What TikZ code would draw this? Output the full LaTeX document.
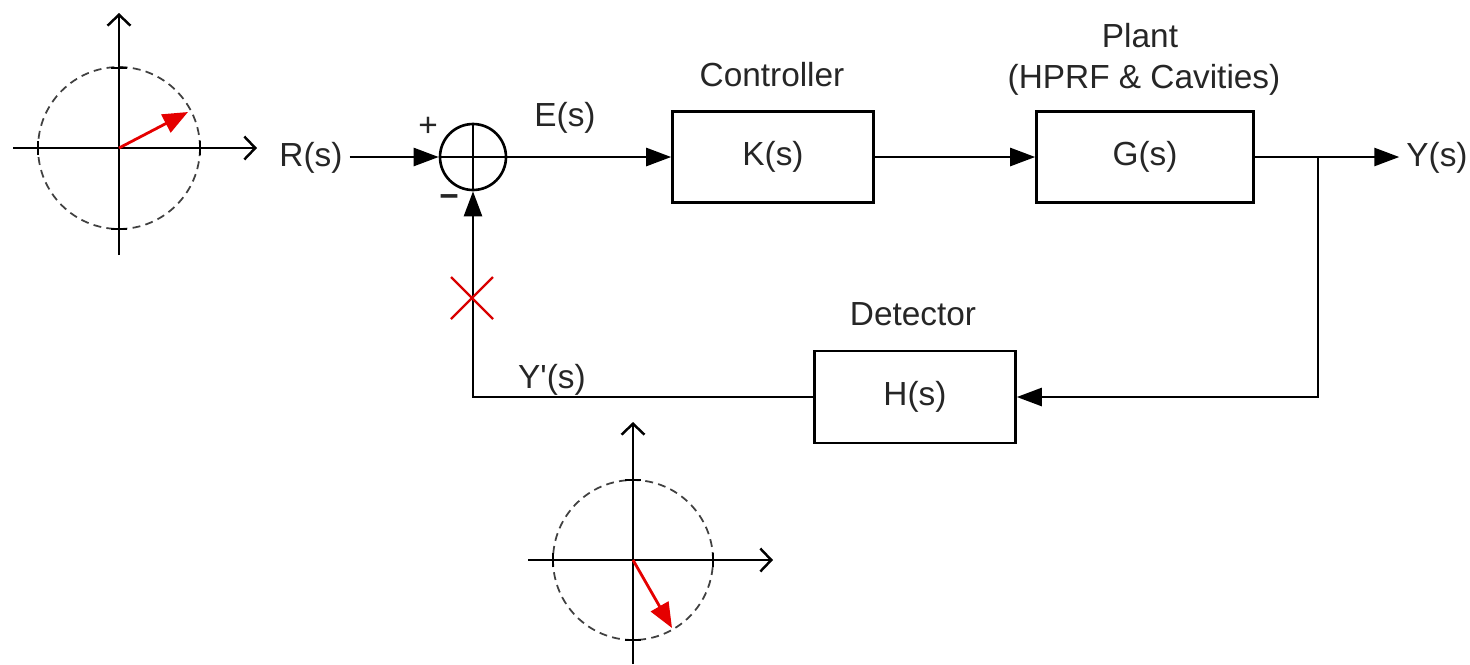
\documentclass[tikz,border=0pt]{standalone}
\usepackage{fontspec}
\setmainfont{Liberation Sans}[Ligatures=TeXOff]
\usetikzlibrary{arrows.meta}
\begin{document}
\begin{tikzpicture}[x=0.02cm,y=-0.02cm,
  font=\fontsize{19}{23}\selectfont,
  text=black!85,
  line width=1.45pt,
  blk/.style={draw, line width=1.5pt, minimum width=4.02cm, minimum height=1.82cm, inner sep=0pt},
  sig/.style={-{Triangle[length=0.5cm,width=0.36cm]}},
  axis/.style={-{Straight Barb[length=0.22cm,width=0.46cm]}, line width=1.4pt},
  unitc/.style={dash pattern=on 4.5pt off 3pt, black!75, line width=1pt},
  phasor/.style={red!90!black, line width=1.6pt, -{Triangle[length=0.5cm,width=0.4cm]}},
  tick/.style={line width=1pt},
  xmark/.style={red!85!black, line width=1.3pt},
  lbl/.style={anchor=base}
]
\useasboundingbox (0,0) rectangle (1470,664);

% ---- top-left phasor ----
\coordinate (pa) at (119,148);
\draw[unitc] (pa) circle[radius=1.62cm];
\draw[axis] (13,148) -- (257,148);
\draw[axis] (119,255) -- (119,13);
\draw[tick] (38,141) -- (38,155);
\draw[tick] (200,141) -- (200,155);
\draw[tick] (111,68) -- (127,68);
\draw[tick] (111,229) -- (127,229);
\draw[phasor] (pa) -- ++(69,-36);

% ---- bottom phasor ----
\coordinate (pb) at (633,560);
\draw[unitc] (pb) circle[radius=1.6cm];
\draw[axis] (528,560) -- (773,560);
\draw[axis] (633,664) -- (633,422);
\draw[tick] (553,553) -- (553,567);
\draw[tick] (713,553) -- (713,567);
\draw[tick] (625,480) -- (641,480);
\draw[tick] (625,640) -- (641,640);
\draw[phasor] (pb) -- ++(39,68);

% ---- blocks ----
\node[draw, circle, minimum size=1.32cm, inner sep=0pt, line width=1.5pt] (sum) at (473,157) {};
\draw (sum.north) -- (sum.south);
\draw (sum.west) -- (sum.east);

\node[blk] (K) at (773,157) {K(s)};
\node[blk, minimum width=4.34cm] (G) at (1145,157) {G(s)};
\node[blk, minimum height=1.84cm] (H) at (915,397) {H(s)};

% ---- labels ----
\node[lbl] (Rl) at (311,166) {R(s)};
\node[lbl] (El) at (565,126) {E(s)};
\node[lbl] (Yl) at (1437,166) {Y(s)};
\node[lbl] (Ypl) at (552,388) {Y'(s)};
\node[lbl] (ctl) at (772,86) {Controller};
\node[lbl] (plt) at (1140,47) {Plant};
\node[lbl] (hprf) at (1144,88) {(HPRF \& Cavities)};
\node[lbl] (det) at (913,325) {Detector};
\node (plus) at (428,127) {+};
\node[font=\fontsize{19}{23}\selectfont\bfseries] (minus) at (449,201) {−};

% ---- connectors ----
\coordinate (br) at (1318,157);
\draw[sig] (Rl.east |- sum) -- (sum.west);
\draw[sig] (sum.east) -- (K.west);
\draw[sig] (K.east) -- (G.west);
\draw (G.east) -- (br);
\draw[sig] (br) -- (Yl.west |- br);
\draw[sig] (br) |- (H.east);
\draw[sig] (H.west) -| (sum.south);

% ---- red cross on feedback path ----
\coordinate (xm) at (472,298);
\draw[xmark] (xm) ++(-21,-21) -- ++(42,42);
\draw[xmark] (xm) ++(-21,21) -- ++(42,-42);
\end{tikzpicture}
\end{document}
